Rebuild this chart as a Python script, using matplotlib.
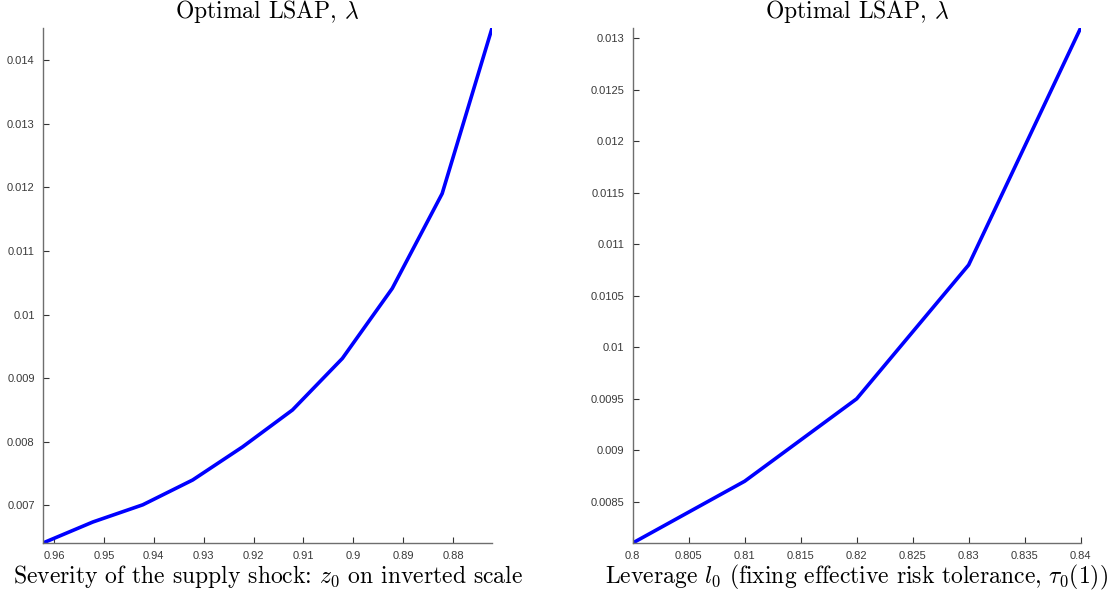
import matplotlib
matplotlib.use("Agg")
import matplotlib.pyplot as plt
from matplotlib.ticker import FormatStrFormatter

# left panel: severity of supply shock (z0, inverted axis)
z0 = [0.9622, 0.9522, 0.9422, 0.9322, 0.9222, 0.9122, 0.9022, 0.8922, 0.8822, 0.8722]
lam_z = [0.00641, 0.00674, 0.00701, 0.00740, 0.00792, 0.00850, 0.00931, 0.01041, 0.01190, 0.01450]
z_ticks = [0.96, 0.95, 0.94, 0.93, 0.92, 0.91, 0.90, 0.89, 0.88]
lamz_ticks = [0.007, 0.008, 0.009, 0.010, 0.011, 0.012, 0.013, 0.014]

# right panel: leverage l0
l0 = [0.80, 0.81, 0.82, 0.83, 0.84]
lam_l = [0.0081, 0.0087, 0.0095, 0.0108, 0.0131]
l_ticks = [0.8, 0.805, 0.81, 0.815, 0.82, 0.825, 0.83, 0.835, 0.84]
laml_ticks = [0.0085, 0.009, 0.0095, 0.01, 0.0105, 0.011, 0.0115, 0.012, 0.0125, 0.013]

plt.rcParams['mathtext.fontset'] = 'cm'
serif = dict(family='cmr10', fontsize=17)

fig = plt.figure(figsize=(11.14, 5.98), dpi=100)
ax1 = fig.add_axes([0.0386, 0.092, 0.4031, 0.861])
ax2 = fig.add_axes([0.568, 0.092, 0.402, 0.861])


def style_axis(ax):
    for side in ['top', 'right']:
        ax.spines[side].set_visible(False)
    for side in ['left', 'bottom']:
        ax.spines[side].set_color('#6e6e6e')
        ax.spines[side].set_linewidth(1.0)
    ax.tick_params(direction='in', length=4, width=0.8, color='#333333',
                   labelsize=8, labelcolor='#3a3a3a', pad=6)
    for lbl in ax.get_xticklabels() + ax.get_yticklabels():
        lbl.set_family('Liberation Sans')
    ax.xaxis.set_major_formatter(FormatStrFormatter('%g'))
    ax.yaxis.set_major_formatter(FormatStrFormatter('%g'))


ax1.plot(z0, lam_z, color='#0000ff', linewidth=2.6)
ax1.set_xlim(z0[0], z0[-1])
ax1.set_ylim(0.00641, 0.01450)
ax1.set_xticks(z_ticks)
ax1.set_yticks(lamz_ticks)
style_axis(ax1)
ax1.set_title(r'Optimal LSAP, $\lambda$', pad=7, **serif)
ax1.set_xlabel(r'Severity of the supply shock: $z_0$ on inverted scale', labelpad=1, **serif)

ax2.plot(l0, lam_l, color='#0000ff', linewidth=2.6)
ax2.set_xlim(0.8, 0.84)
ax2.set_ylim(0.0081, 0.0131)
ax2.set_xticks(l_ticks)
ax2.set_yticks(laml_ticks)
style_axis(ax2)
ax2.set_title(r'Optimal LSAP, $\lambda$', pad=7, **serif)
ax2.set_xlabel(r'Leverage $l_0$ (fixing effective risk tolerance, $\tau_0(1)$)', labelpad=1, **serif)

fig.savefig('out.png', dpi=100)
